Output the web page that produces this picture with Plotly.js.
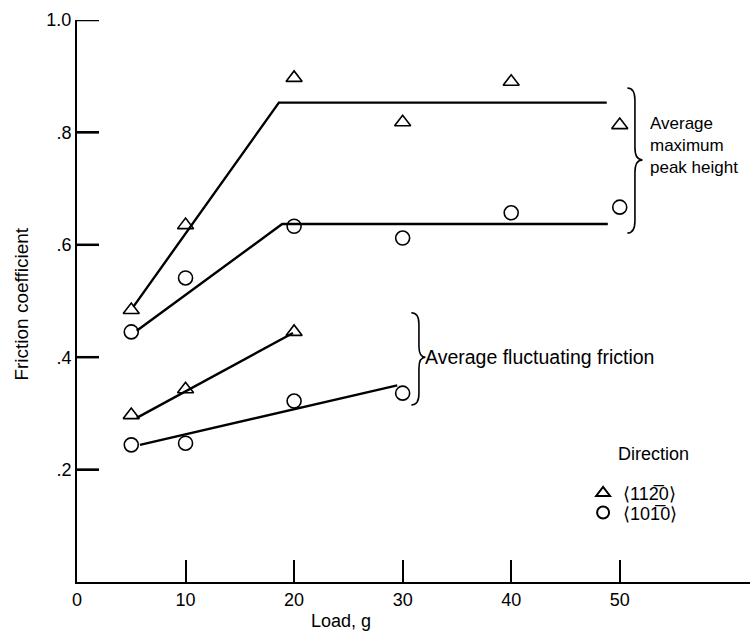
<!DOCTYPE html>
<html>
<head>
<meta charset="utf-8">
<script src="https://cdn.plot.ly/plotly-3.0.1.min.js"></script>
<style>html,body{margin:0;padding:0;background:#fff;}</style>
</head>
<body>
<div id="chart" style="width:754px;height:635px;"></div>
<script>
// ---- data ----
var loadTri = [5, 10, 20, 30, 40, 50];
var peakTri = [0.484, 0.635, 0.897, 0.818, 0.890, 0.813];
var loadCirc = [5, 10, 20, 30, 40, 50];
var peakCirc = [0.445, 0.541, 0.633, 0.612, 0.657, 0.667];
var loadTriFluct = [5, 10, 20];
var fluctTri = [0.297, 0.343, 0.445];
var loadCircFluct = [5, 10, 20, 30];
var fluctCirc = [0.244, 0.247, 0.322, 0.336];

// faired curves
var fitPeakTriX = [5.2, 18.6, 48.8];
var fitPeakTriY = [0.49, 0.853, 0.853];
var fitPeakCircX = [5.5, 18.9, 48.9];
var fitPeakCircY = [0.447, 0.637, 0.637];
var fitFluctTriX = [5.5, 19.9];
var fitFluctTriY = [0.292, 0.443];
var fitFluctCircX = [5.8, 29.5];
var fitFluctCircY = [0.244, 0.35];

var xTickVals = [0, 10, 20, 30, 40, 50];
var xTickText = ['0', '10', '20', '30', '40', '50'];
var yTickVals = [0.2, 0.4, 0.6, 0.8, 1.0];
var yTickText = ['.2', '.4', '.6', '.8', '1.0'];

var nameTri = '\u27E8112\u03050\u27E9';
var nameCirc = '\u27E8101\u03050\u27E9';

// ---- style ----
var TXT = 'Liberation Sans, Arial, sans-serif';
var NUM = 'Liberation Sans Narrow, Liberation Sans, Arial Narrow, sans-serif';
var lineStyle = {color: '#000', width: 2.4};

function lineTrace(x, y) {
  return {x: x, y: y, mode: 'lines', line: lineStyle, showlegend: false, hoverinfo: 'skip'};
}
function markTrace(x, y, sym, name, showleg, leg) {
  return {x: x, y: y, mode: 'markers', name: name, showlegend: showleg, legend: leg,
    marker: {symbol: sym, size: 14, color: '#000', line: {width: 1.6, color: '#000'}}};
}

var data = [
  lineTrace(fitPeakTriX, fitPeakTriY),
  lineTrace(fitPeakCircX, fitPeakCircY),
  lineTrace(fitFluctTriX, fitFluctTriY),
  lineTrace(fitFluctCircX, fitFluctCircY),
  markTrace(loadTri, peakTri, 'triangle-up-open', nameTri, true, 'legend'),
  markTrace(loadTriFluct, fluctTri, 'triangle-up-open', nameTri, false, 'legend'),
  markTrace(loadCirc, peakCirc, 'circle-open', nameCirc, true, 'legend2'),
  markTrace(loadCircFluct, fluctCirc, 'circle-open', nameCirc, false, 'legend2')
];

function brace(x0, x1, x2, yt, ym, yb, r) {
  return 'M ' + x0 + ',' + yt + ' Q ' + x1 + ',' + yt + ' ' + x1 + ',' + (yt - r) +
    ' L ' + x1 + ',' + (ym + r) + ' Q ' + x1 + ',' + ym + ' ' + x2 + ',' + ym +
    ' Q ' + x1 + ',' + ym + ' ' + x1 + ',' + (ym - r) +
    ' L ' + x1 + ',' + (yb + r) + ' Q ' + x1 + ',' + yb + ' ' + x0 + ',' + yb;
}

function legendBox(y) {
  return {
    x: 0.752, y: y, xanchor: 'left', yanchor: 'middle',
    bgcolor: 'rgba(0,0,0,0)', borderwidth: 0,
    font: {family: TXT, size: 18, color: '#000'}, itemsizing: 'constant'
  };
}

function txt(text, x, y, size) {
  return {text: text, xref: 'x', yref: 'y', x: x, y: y, xanchor: 'left', yanchor: 'middle',
    align: 'left', showarrow: false, font: {family: TXT, size: size || 18, color: '#000'}};
}

// inward y-axis tick marks (22 px long), one per y tick value
var yTickShapes = yTickVals.map(function (v) {
  return {type: 'line', xref: 'paper', yref: 'y', x0: 0, x1: 22 / 673, y0: v, y1: v,
    line: {color: '#000', width: 2.5}, layer: 'above'};
});

var layout = {
  width: 754, height: 635,
  margin: {l: 77, r: 4, t: 20, b: 53},
  paper_bgcolor: '#fff', plot_bgcolor: 'rgba(0,0,0,0)',
  font: {family: TXT, size: 18, color: '#000'},
  xaxis: {
    range: [0, 62], showline: true, linecolor: '#000', linewidth: 2,
    ticks: 'inside', ticklen: 22, tickwidth: 2, tickcolor: '#000',
    tickvals: xTickVals, ticktext: xTickText, showgrid: false, zeroline: false,
    tickfont: {family: NUM, size: 18, color: '#000'}, fixedrange: true
  },
  yaxis: {
    range: [0, 1], showline: true, linecolor: '#000', linewidth: 2,
    ticks: 'inside', ticklen: 22, tickwidth: 2, tickcolor: '#000',
    tickvals: yTickVals, ticktext: yTickText, showgrid: false, zeroline: false,
    tickfont: {family: NUM, size: 18, color: '#000'}, fixedrange: true
  },
  showlegend: true,
  legend: legendBox(0.158),
  legend2: legendBox(0.123),
  shapes: yTickShapes.concat([
    {type: 'path', xref: 'x', yref: 'y', line: {color: '#000', width: 1.6},
     path: brace(50.7, 51.4, 52.1, 0.879, 0.751, 0.621, 0.022)},
    {type: 'path', xref: 'x', yref: 'y', line: {color: '#000', width: 1.6},
     path: brace(30.8, 31.5, 32.1, 0.479, 0.400, 0.315, 0.02)}
  ]),
  annotations: [
    txt('Average<br>maximum<br>peak height', 52.6, 0.776, 17),
    txt('Average fluctuating friction', 31.9, 0.400, 19.5),
    {text: 'Direction', xref: 'paper', yref: 'paper', x: 0.856, y: 0.228,
     xanchor: 'center', yanchor: 'middle', showarrow: false,
     font: {family: TXT, size: 18, color: '#000'}},
    {text: 'Load, g', xref: 'x', yref: 'paper', x: 24.3, y: -0.07,
     xanchor: 'center', yanchor: 'middle', showarrow: false,
     font: {family: TXT, size: 18, color: '#000'}},
    {text: 'Friction coefficient', xref: 'paper', yref: 'paper', x: -0.082, y: 0.495,
     xanchor: 'center', yanchor: 'middle', textangle: -90, showarrow: false,
     font: {family: TXT, size: 19, color: '#000'}}
  ]
};

Plotly.newPlot('chart', data, layout, {displayModeBar: false, staticPlot: true});
</script>
</body>
</html>
